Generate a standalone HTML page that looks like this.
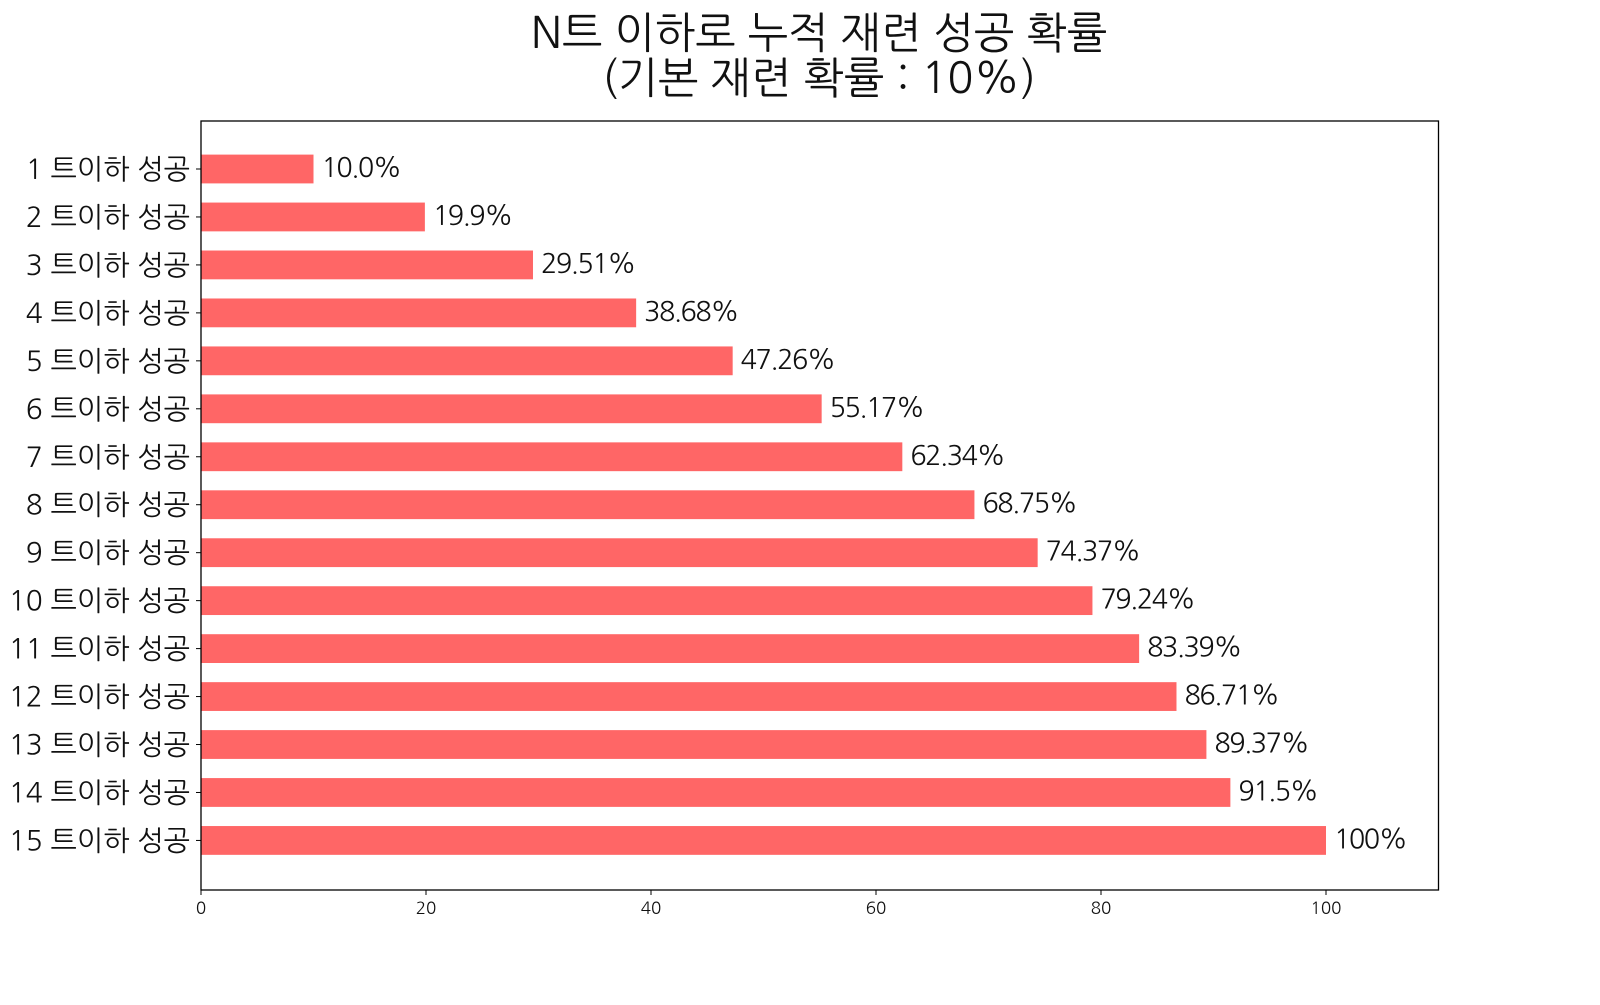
<!DOCTYPE html>
<html><head><meta charset="utf-8"><style>
html,body{margin:0;padding:0;background:#fff;}
svg text{font-family:"NanumGothic","Liberation Sans","Noto Sans CJK KR",sans-serif;fill:#111;}
</style></head><body>
<svg width="1600" height="1000" xmlns="http://www.w3.org/2000/svg">
<text x="819" y="48" font-size="43" text-anchor="middle">N트 이하로 누적 재련 성공 확률</text>
<text x="819" y="93" font-size="43" text-anchor="middle">(기본 재련 확률 : 10%)</text>
<g id="bars"></g>
<rect x="201" y="121" width="1237.5" height="769" fill="none" stroke="#000" stroke-width="1.3"/>
<g font-size="17" text-anchor="middle">
<line x1="201" y1="890" x2="201" y2="895" stroke="#000"/><text x="201" y="914">0</text>
<line x1="426" y1="890" x2="426" y2="895" stroke="#000"/><text x="426" y="914">20</text>
<line x1="651" y1="890" x2="651" y2="895" stroke="#000"/><text x="651" y="914">40</text>
<line x1="876" y1="890" x2="876" y2="895" stroke="#000"/><text x="876" y="914">60</text>
<line x1="1101" y1="890" x2="1101" y2="895" stroke="#000"/><text x="1101" y="914">80</text>
<line x1="1326" y1="890" x2="1326" y2="895" stroke="#000"/><text x="1326" y="914">100</text>
</g>
</svg>
<script>
var vals=[10.0,19.9,29.51,38.68,47.26,55.17,62.34,68.75,74.37,79.24,83.39,86.71,89.37,91.5,100];
var labs=["10.0%","19.9%","29.51%","38.68%","47.26%","55.17%","62.34%","68.75%","74.37%","79.24%","83.39%","86.71%","89.37%","91.5%","100%"];
var g=document.getElementById('bars'),h='';
for(var i=0;i<15;i++){var cy=169+i*47.96,w=vals[i]*11.25;
h+='<rect x="201" y="'+(cy-14.4)+'" width="'+w+'" height="28.8" fill="#ff6666"/>';
h+='<line x1="196" y1="'+cy+'" x2="201" y2="'+cy+'" stroke="#000"/>';
h+='<text x="190" y="'+(cy+10)+'" font-size="28" text-anchor="end">'+(i+1)+' 트이하 성공</text>';
h+='<text x="'+(201+w+8)+'" y="'+(cy+8)+'" font-size="27" letter-spacing="-1.5">'+labs[i]+'</text>';}
g.innerHTML=h;
</script>
</body></html>
